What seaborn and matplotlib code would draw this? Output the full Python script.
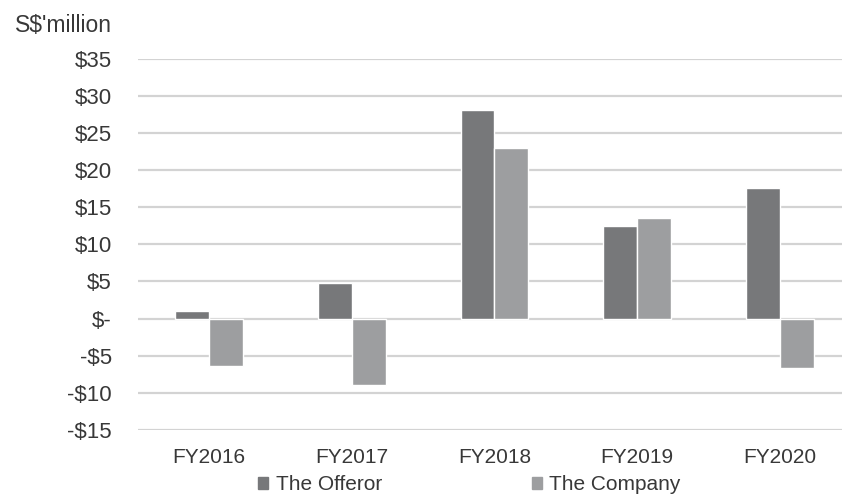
import matplotlib
matplotlib.use("Agg")
import matplotlib.pyplot as plt
import seaborn as sns
import pandas as pd

years = ["FY2016", "FY2017", "FY2018", "FY2019", "FY2020"]
offeror = [1.0, 4.8, 28.1, 12.5, 17.6]
company = [-6.4, -9.0, 23.0, 13.5, -6.6]
series_names = ["The Offeror", "The Company"]
y_ticks = [35, 30, 25, 20, 15, 10, 5, 0, -5, -10, -15]
y_tick_labels = ["$35", "$30", "$25", "$20", "$15", "$10", "$5", "$-",
                 "-$5", "-$10", "-$15"]

df = pd.DataFrame({
    "Year": years * 2,
    "Value": offeror + company,
    "Entity": [series_names[0]] * len(years) + [series_names[1]] * len(years),
})

sns.set_theme(style="white")
plt.rcParams["font.family"] = ["Liberation Sans", "DejaVu Sans"]
text_color = "#383838"

W, H = 842, 495
fig = plt.figure(figsize=(W / 100, H / 100), dpi=100)
ax_left, ax_right = 137.5, 842
ax_top, ax_bottom = 58.5, 430
ax = fig.add_axes([ax_left / W, 1 - ax_bottom / H,
                   (ax_right - ax_left) / W, (ax_bottom - ax_top) / H])

palette = {series_names[0]: "#77787a", series_names[1]: "#9d9ea0"}
sns.barplot(data=df, x="Year", y="Value", hue="Entity", palette=palette,
            width=0.476, saturation=1, ax=ax, legend=False, zorder=3)

ax.set_ylim(-15, 35)
ax.set_xlim(-0.5, 4.5 - (851.5 - 842) / 143)
ax.set_yticks(y_ticks)
ax.set_yticklabels(y_tick_labels)
ax.yaxis.grid(True, color="#d3d3d3", linewidth=1.6, zorder=0)
ax.set_axisbelow(True)
for s in ax.spines.values():
    s.set_visible(False)
ax.tick_params(axis="y", length=0, pad=18.4, labelsize=16, colors=text_color)
ax.tick_params(axis="x", length=0, pad=13, labelsize=15, colors=text_color)
ax.set_xlabel("")
ax.set_ylabel("")

fig.text(112 / W, 1 - 25 / H, "S$'million", ha="right", va="center",
         fontsize=16.5, color=text_color)

handles = [plt.Rectangle((0, 0), 1, 1, color=palette[n]) for n in series_names]
fig.legend(handles, series_names, loc="center left", ncol=2,
           bbox_to_anchor=(258 / W, 1 - 485 / H), frameon=False,
           fontsize=15, handlelength=0.5, handleheight=0.5,
           handletextpad=0.34, columnspacing=7.2, labelcolor=text_color,
           borderpad=0, borderaxespad=0)

fig.savefig("out.png", dpi=100, facecolor="white")
